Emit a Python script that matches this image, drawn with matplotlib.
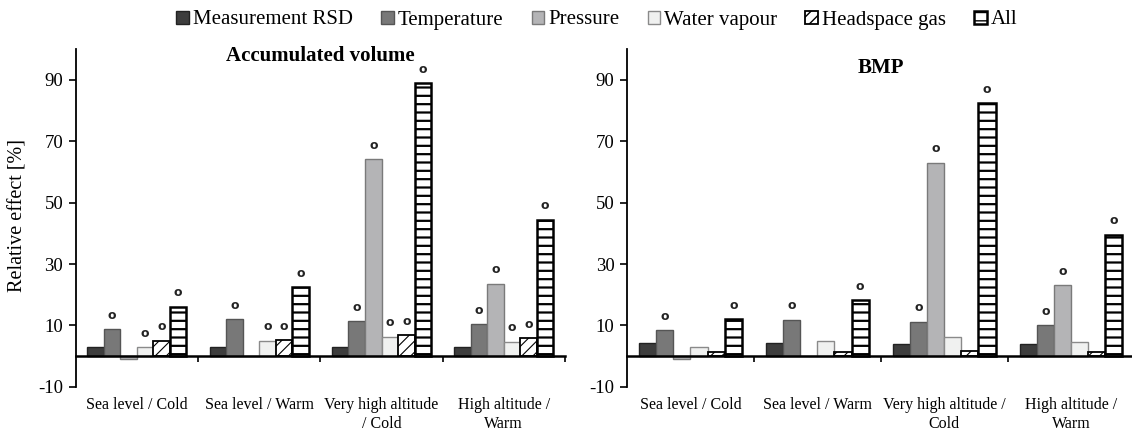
import matplotlib
matplotlib.use("Agg")
import matplotlib.pyplot as plt
import numpy as np

plt.rcParams['font.family'] = ['Liberation Serif', 'DejaVu Serif']
plt.rcParams['axes.unicode_minus'] = False
plt.rcParams['hatch.color'] = 'black'

series = ["Measurement RSD", "Temperature", "Pressure", "Water vapour", "Headspace gas", "All"]
cats_left = ["Sea level / Cold", "Sea level / Warm", "Very high altitude\n/ Cold", "High altitude /\nWarm"]
cats_right = ["Sea level / Cold", "Sea level / Warm", "Very high altitude /\nCold", "High altitude /\nWarm"]

# values per series, 4 categories each
acc_rsd = [2.8, 2.8, 2.9, 2.8]
acc_temp = [8.7, 12.1, 11.4, 10.4]
acc_pres = [-1.1, 0.0, 64.1, 23.6]
acc_wv = [2.8, 5.0, 6.3, 4.7]
acc_hs = [5.0, 5.2, 6.8, 5.8]
acc_all = [16.1, 22.4, 89.0, 44.4]

bmp_rsd = [4.1, 4.1, 4.0, 4.0]
bmp_temp = [8.5, 11.8, 11.2, 10.1]
bmp_pres = [-1.1, 0.0, 63.0, 23.1]
bmp_wv = [2.8, 5.0, 6.3, 4.5]
bmp_hs = [1.3, 1.3, 1.6, 1.2]
bmp_all = [12.1, 18.3, 82.5, 39.6]

# significance markers ("o") per series, per category
acc_sig_temp = [1, 1, 1, 1]
acc_sig_pres = [0, 0, 1, 1]
acc_sig_wv = [1, 1, 1, 1]
acc_sig_hs = [1, 1, 1, 1]
acc_sig_all = [1, 1, 1, 1]

bmp_sig_temp = [1, 1, 1, 1]
bmp_sig_pres = [0, 0, 1, 1]
bmp_sig_wv = [0, 0, 0, 0]
bmp_sig_hs = [0, 0, 0, 0]
bmp_sig_all = [1, 1, 1, 1]

yticks = [-10, 10, 30, 50, 70, 90]

styles = [
    dict(facecolor='#3d3d3d', edgecolor='#222222', linewidth=1.0),
    dict(facecolor='#787878', edgecolor='#555555', linewidth=1.0),
    dict(facecolor='#b4b4b6', edgecolor='#7a7a7a', linewidth=1.0),
    dict(facecolor='#f0f1f0', edgecolor='#8a8a8a', linewidth=1.0),
    dict(facecolor='white', edgecolor='black', linewidth=1.3, hatch='///'),
    dict(facecolor='white', edgecolor='black', linewidth=1.8, hatch='--'),
]
hatch_lw = [1.0, 1.0, 1.0, 1.0, 0.8, 1.6]

W, H = 1132, 433
fig = plt.figure(figsize=(W / 100, H / 100), dpi=100)

def px_axes(l, r, t, b):
    return fig.add_axes([l / W, 1 - b / H, (r - l) / W, (b - t) / H])

ax1 = px_axes(75.7, 565.0, 49.3, 386.7)
ax2 = px_axes(627.0, 1134.5, 49.3, 386.7)

def draw(ax, data, sigs, cats, title, title_y):
    n = len(cats)
    x = np.arange(n)
    w = 0.81 / len(data)
    bars = []
    for j, (vals, st) in enumerate(zip(data, styles)):
        pos = x - 0.405 + w * (j + 0.5)
        with plt.rc_context({'hatch.linewidth': hatch_lw[j]}):
            b = ax.bar(pos, vals, width=w, zorder=2, **st)
        for p in b:
            if hasattr(p, 'set_hatch_linewidth'):
                p.set_hatch_linewidth(hatch_lw[j])
        bars.append(b)
        sig = sigs[j]
        if sig is not None:
            for xi, v, s in zip(pos, vals, sig):
                if s:
                    ax.annotate('o', xy=(xi, max(v, 0)), xytext=(0, 10),
                                textcoords='offset points', ha='center', va='center',
                                fontsize=9, fontweight='bold', family='DejaVu Sans',
                                color='#222222')
    ax.set_xlim(-0.5, n - 0.5)
    ax.set_ylim(-10, 100)
    ax.set_yticks(yticks)
    ax.tick_params(axis='y', direction='out', length=5, width=1.2, labelsize=13.5, pad=4)
    ax.spines['top'].set_visible(False)
    ax.spines['right'].set_visible(False)
    ax.spines['left'].set_linewidth(1.3)
    ax.spines['bottom'].set_position(('data', 0))
    ax.spines['bottom'].set_linewidth(1.8)
    ax.spines['bottom'].set_zorder(3)
    ax.set_xticks(np.arange(1, n + 1) - 0.5)
    ax.set_xticklabels([])
    ax.tick_params(axis='x', direction='out', length=4, width=1.2)
    for i, c in enumerate(cats):
        ax.text(i, -0.03, c, transform=ax.get_xaxis_transform(), ha='center', va='top',
                fontsize=11.5, multialignment='center', linespacing=1.3)
    ax.text(0.5, title_y, title, transform=ax.transAxes, ha='center', va='baseline',
            fontsize=15, fontweight='bold')
    return bars

acc = [acc_rsd, acc_temp, acc_pres, acc_wv, acc_hs, acc_all]
acc_s = [None, acc_sig_temp, acc_sig_pres, acc_sig_wv, acc_sig_hs, acc_sig_all]
bmp = [bmp_rsd, bmp_temp, bmp_pres, bmp_wv, bmp_hs, bmp_all]
bmp_s = [None, bmp_sig_temp, bmp_sig_pres, bmp_sig_wv, bmp_sig_hs, bmp_sig_all]

bars = draw(ax1, acc, acc_s, cats_left, "Accumulated volume", (386.7 - 61) / 337.4)
draw(ax2, bmp, bmp_s, cats_right, "BMP", (386.7 - 73) / 337.4)

fig.text(18 / W, 1 - 215 / H, "Relative effect [%]", rotation=90, ha='center', va='center',
         fontsize=14.5)

fig.legend([b[0] for b in bars], series, loc='center', bbox_to_anchor=(597 / W, 1 - 20 / H),
           ncol=6, frameon=False, fontsize=15, handlelength=0.6, handleheight=0.6,
           handletextpad=0.2, columnspacing=1.35, borderaxespad=0, borderpad=0)

fig.savefig("out.png", dpi=100)
